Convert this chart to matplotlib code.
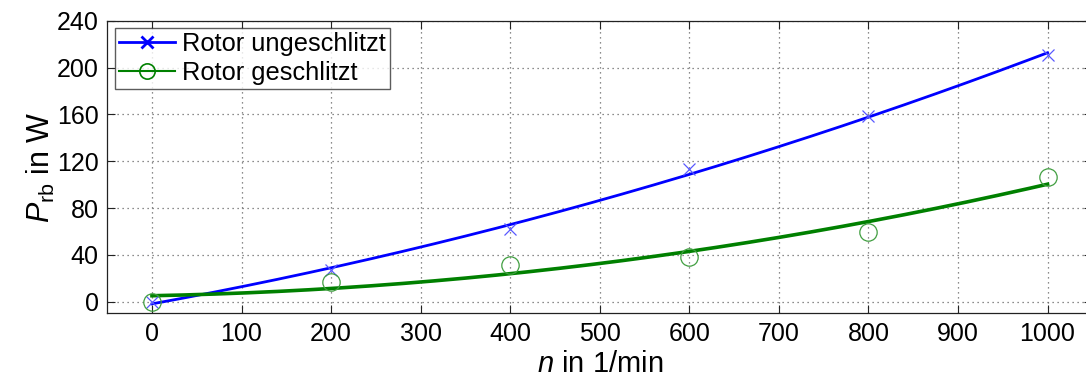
import matplotlib

matplotlib.use("Agg")
import matplotlib.pyplot as plt
import numpy as np

# measured points, n in 1/min and P_rb in W
drehzahl = [0, 200, 400, 600, 800, 1000]
p_ungeschlitzt = [0, 27, 62, 113, 159, 211]
p_geschlitzt = [0, 17, 31, 38, 59.5, 106.5]

labels = ["Rotor ungeschlitzt", "Rotor geschlitzt"]
x_ticks = list(range(0, 1001, 100))
y_ticks = list(range(0, 241, 40))

plt.rcParams["font.family"] = ["Liberation Sans", "DejaVu Sans"]
plt.rcParams["mathtext.fontset"] = "custom"
plt.rcParams["mathtext.rm"] = "Liberation Sans"
plt.rcParams["mathtext.it"] = "Liberation Sans:italic"

fig = plt.figure(figsize=(10.86, 3.78), dpi=100)
ax = fig.add_axes([0.0987, 0.171, 0.9071, 0.774])

blue = (0, 0, 1)
green = (0, 0.5, 0)

# quadratic fit through the measurements, like the original
n_fine = np.linspace(0, 1000, 201)
fit_b = np.polyval(np.polyfit(drehzahl, p_ungeschlitzt, 2), n_fine)
fit_g = np.polyval(np.polyfit(drehzahl, p_geschlitzt, 2), n_fine)

ax.plot(n_fine, fit_b, color=blue, lw=2.0, zorder=3)
ax.plot(n_fine, fit_g, color=green, lw=2.6, zorder=3)
ax.plot(drehzahl, p_ungeschlitzt, ls="none", marker="x", ms=8,
        mew=0.9, color=(0.35, 0.35, 1), zorder=4)
ax.plot(drehzahl, p_geschlitzt, ls="none", marker="o", ms=12.5,
        mew=0.9, mfc="none", color=(0.25, 0.62, 0.25), zorder=4)

# legend handles: line with marker
h1, = ax.plot([], [], color=blue, lw=2.0, marker="x", ms=9, mew=2)
h2, = ax.plot([], [], color=green, lw=1.5, marker="o", ms=11, mew=1.2,
              mfc="none")
leg = ax.legend([h1, h2], labels, loc="upper left", fontsize=18.3,
                frameon=True, fancybox=False, edgecolor="#333333",
                borderaxespad=0.3, borderpad=0.15, labelspacing=0.2,
                handlelength=2.2, handletextpad=0.3)
leg.get_frame().set_linewidth(1.0)

ax.set_xlim(-50, 1050)
ax.set_ylim(-10, 240)
ax.set_xticks(x_ticks)
ax.set_yticks(y_ticks)
ax.tick_params(direction="in", length=6, width=0.8, labelsize=18,
               top=True, right=True, pad=6, colors="#222222",
               labelcolor="black")
ax.grid(True, ls=(0, (1, 3)), color="#666666", lw=0.9)
for s in ax.spines.values():
    s.set_linewidth(0.9)
    s.set_color("#222222")

ax.set_xlabel(r"$n$ in 1/min", fontsize=21, labelpad=3)
ax.set_ylabel(r"$P_{\mathrm{rb}}$ in W", fontsize=22, labelpad=0)

fig.savefig("out.png", dpi=100)
